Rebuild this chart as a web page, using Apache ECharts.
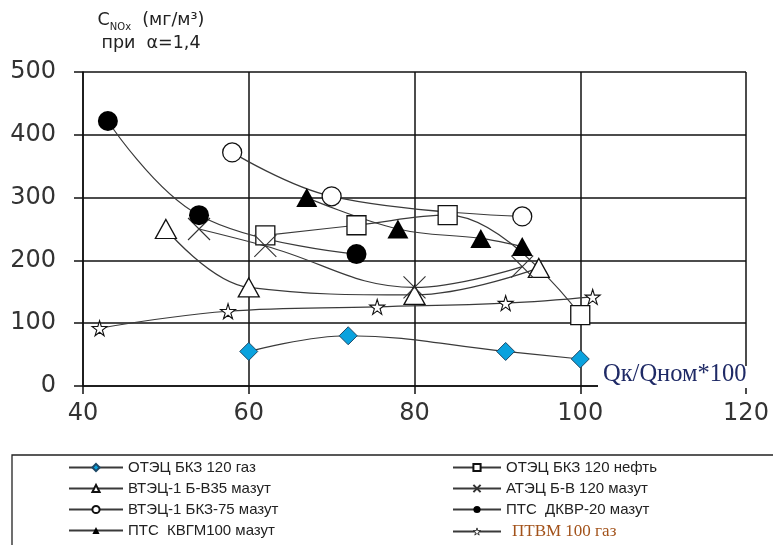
<!DOCTYPE html>
<html>
<head>
<meta charset="utf-8">
<script src="https://cdn.jsdelivr.net/npm/echarts@6/dist/echarts.min.js"></script>
<style>
  html, body { margin: 0; padding: 0; background: #fff; }
  #chart { width: 773px; height: 545px; }
</style>
</head>
<body>
<div id="chart"></div>
<script>
// Axis ticks
const xTicks = [40, 60, 80, 100, 120];
const yTicks = [0, 100, 200, 300, 400, 500];

// Series names
const seriesNames = [
  'ОТЭЦ БКЗ 120 газ',
  'ОТЭЦ БКЗ 120 нефть',
  'ВТЭЦ-1 Б-В35 мазут',
  'АТЭЦ Б-В 120 мазут',
  'ВТЭЦ-1 БКЗ-75 мазут',
  'ПТС  ДКВР-20 мазут',
  'ПТС  КВГМ100 мазут',
  'ПТВМ 100 газ'
];

// Load, % of nominal (x) and NOx concentration, mg/m3 (y)
const otecGasX = [60, 72, 91, 100];
const otecGasY = [55, 80, 55, 43];
const otecOilX = [62, 73, 84, 100];
const otecOilY = [240, 256, 272, 113];
const vtecBv35X = [50, 60, 80, 95];
const vtecBv35Y = [250, 157, 145, 188];
const atecX = [54, 62, 80, 93];
const atecY = [250, 223, 157, 190];
const vtecBkz75X = [58, 70, 93];
const vtecBkz75Y = [372, 302, 270];
const ptsDkvrX = [43, 54, 73];
const ptsDkvrY = [422, 272, 210];
const ptsKvgmX = [67, 78, 88, 93];
const ptsKvgmY = [300, 250, 235, 222];
const ptvmX = [42, 57.5, 75.5, 91, 101.5];
const ptvmY = [92, 119, 126, 132, 142];

const pairs = (xs, ys) => xs.map((x, i) => [x, ys[i]]);

const LINE = '#3a3a3a';
const STAR = 'path://M50,0 L61,35 L98,35 L68,57 L79,91 L50,70 L21,91 L32,57 L2,35 L39,35 Z';
const CROSS = 'path://M0,0 L10,10 M10,0 L0,10';

function lineSeries(name, data, symbol, size, itemStyle) {
  return {
    name: name,
    type: 'line',
    data: data,
    smooth: 0.4,
    symbol: symbol,
    symbolSize: size,
    showAllSymbol: true,
    lineStyle: { color: LINE, width: 1.2 },
    itemStyle: itemStyle,
    emphasis: { disabled: true },
    animation: false
  };
}

const series = [
  lineSeries(seriesNames[0], pairs(otecGasX, otecGasY), 'diamond', 18,
    { color: '#0aa2de', borderColor: '#1d4866', borderWidth: 1 }),
  lineSeries(seriesNames[1], pairs(otecOilX, otecOilY), 'rect', 19,
    { color: '#fff', borderColor: '#111', borderWidth: 1.3 }),
  lineSeries(seriesNames[2], pairs(vtecBv35X, vtecBv35Y), 'triangle', [21, 19],
    { color: '#fff', borderColor: '#111', borderWidth: 1.3 }),
  lineSeries(seriesNames[3], pairs(atecX, atecY), CROSS, 22,
    { color: 'none', borderColor: '#333', borderWidth: 1.1 }),
  lineSeries(seriesNames[4], pairs(vtecBkz75X, vtecBkz75Y), 'circle', 19,
    { color: '#fff', borderColor: '#111', borderWidth: 1.3 }),
  lineSeries(seriesNames[5], pairs(ptsDkvrX, ptsDkvrY), 'circle', 20,
    { color: '#000', borderColor: '#000', borderWidth: 0 }),
  lineSeries(seriesNames[6], pairs(ptsKvgmX, ptsKvgmY), 'triangle', [21, 19],
    { color: '#000', borderColor: '#000', borderWidth: 0 }),
  lineSeries(seriesNames[7], pairs(ptvmX, ptvmY), STAR, 15,
    { color: '#fff', borderColor: '#111', borderWidth: 1.1 })
];

const legendCommon = {
  orient: 'vertical',
  top: 460,
  itemHeight: 9,
  itemGap: 6,
  padding: 0,
  selectedMode: false,
  textStyle: { fontFamily: 'Liberation Sans', fontSize: 15, color: '#222', padding: [0, 0, 0, 0] }
};

const chart = echarts.init(document.getElementById('chart'), null, { renderer: 'canvas' });

chart.setOption({
  backgroundColor: '#fff',
  animation: false,
  grid: { left: 83, right: 27, top: 72, bottom: 159, containLabel: false },
  xAxis: {
    type: 'value',
    min: xTicks[0],
    max: xTicks[xTicks.length - 1],
    interval: 20,
    axisLine: { show: true, onZero: false, lineStyle: { color: '#111', width: 1.5 } },
    axisTick: { show: true, inside: false, length: 8, lineStyle: { color: '#111', width: 1.5 } },
    axisLabel: { margin: 16, fontFamily: 'DejaVu Sans', fontSize: 24, color: '#333',
      formatter: v => xTicks.includes(v) ? String(v) : '' },
    splitLine: { show: true, lineStyle: { color: '#111', width: 1.5 } }
  },
  yAxis: {
    type: 'value',
    min: yTicks[0],
    max: yTicks[yTicks.length - 1],
    interval: 100,
    axisLine: { show: true, onZero: false, lineStyle: { color: '#111', width: 1.5 } },
    axisTick: { show: true, inside: false, length: 9, lineStyle: { color: '#111', width: 1.5 } },
    axisLabel: { margin: 27, fontFamily: 'DejaVu Sans', fontSize: 24, color: '#333',
      formatter: v => yTicks.includes(v) ? String(v) : '' },
    splitLine: { show: true, lineStyle: { color: '#111', width: 1.5 } }
  },
  legend: [
    Object.assign({}, legendCommon, {
      left: 68, itemWidth: 54,
      data: [seriesNames[0], seriesNames[2], seriesNames[4], seriesNames[6]]
    }),
    Object.assign({}, legendCommon, {
      left: 452, itemWidth: 48,
      data: [seriesNames[1], seriesNames[3], seriesNames[5],
        { name: seriesNames[7],
          itemStyle: { color: '#fff', borderColor: '#111', borderWidth: 0.8 },
          textStyle: { fontFamily: 'Liberation Serif', fontSize: 17, color: '#a2521a',
            verticalAlign: 'top', padding: [0, 0, 0, 6] } }]
    })
  ],
  graphic: [
    // legend frame
    { type: 'rect', z: 50, silent: true,
      shape: { x: 12, y: 455, width: 800, height: 120 },
      style: { fill: 'none', stroke: '#222', lineWidth: 1.3 } },
    // y axis title
    { type: 'text', z: 50, silent: true, x: 151, y: 9,
      style: {
        text: '{a|C}{b|NOx}{a|  (мг/м³)}\n{a|при  α=1,4}',
        align: 'center', verticalAlign: 'top',
        fill: '#222',
        rich: {
          a: { fontFamily: 'DejaVu Sans', fontSize: 17.5, lineHeight: 23, fill: '#222' },
          b: { fontFamily: 'DejaVu Sans', fontSize: 10, lineHeight: 15, verticalAlign: 'bottom', fill: '#222' }
        }
      } },
    // x axis title on a white patch
    { type: 'rect', z: 60, silent: true,
      shape: { x: 598, y: 366, width: 175, height: 22 },
      style: { fill: '#fff' } },
    { type: 'text', z: 61, silent: true, x: 603, y: 387,
      style: { text: 'Qк/Qном*100', fontFamily: 'Liberation Serif', fontSize: 24.5,
        fill: '#1f2a66', verticalAlign: 'bottom', align: 'left' } }
  ],
  series: series
});
</script>
</body>
</html>
